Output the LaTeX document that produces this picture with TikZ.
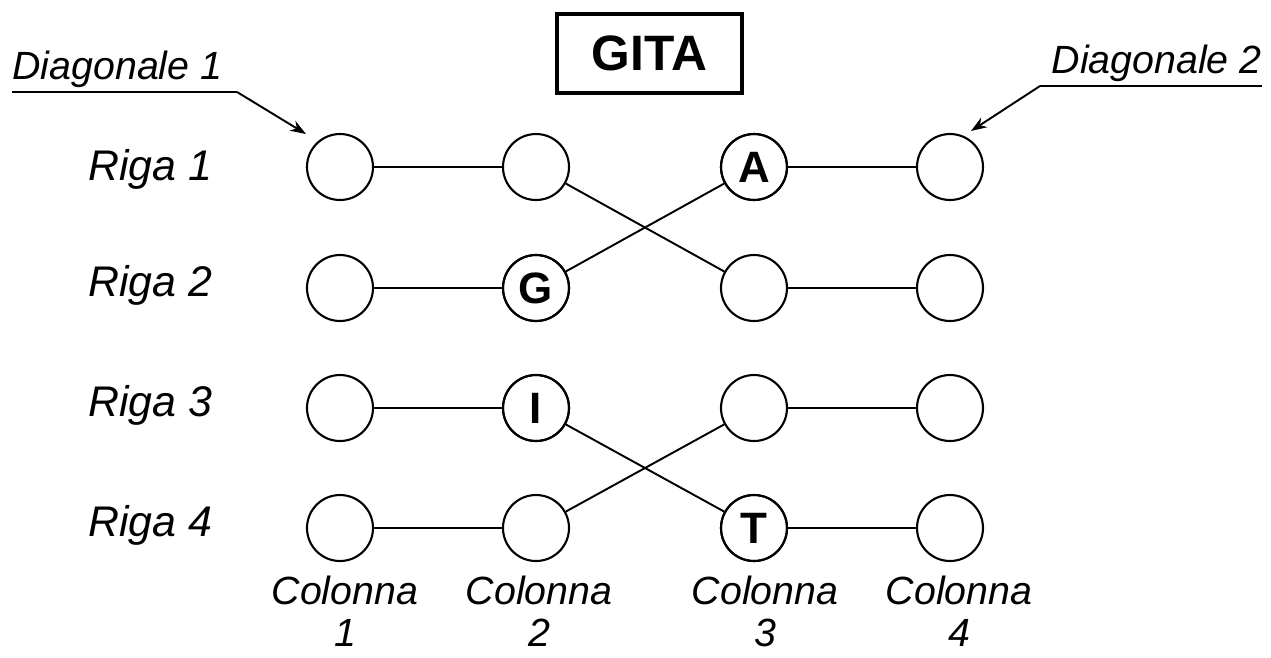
\documentclass[tikz,border=0pt]{standalone}
\usepackage{fontspec}
\setmainfont{Liberation Sans}
\usetikzlibrary{arrows.meta}
\begin{document}
\begin{tikzpicture}[x=0.02cm,y=-0.02cm,
  dot/.style={draw,circle,line width=1.2pt,minimum size=1.32cm,inner sep=0pt,
    font=\fontsize{25}{25}\selectfont\bfseries},
  link/.style={line width=1.1pt},
  rowlab/.style={anchor=base west,inner sep=0pt,font=\fontsize{24.4}{24.4}\selectfont\itshape},
  collab/.style={anchor=base,inner sep=0pt,font=\fontsize{22.4}{22.4}\selectfont\itshape},
  diaglab/.style={inner sep=0pt,font=\fontsize{22.4}{22.4}\selectfont\itshape},
  pointer/.style={line width=1.1pt,-{Stealth[length=9pt,width=6.5pt]}}]
\useasboundingbox (0,0) rectangle (1271,657);
% title
\node[draw,line width=2.3pt,minimum width=3.7cm,minimum height=1.58cm,inner sep=0pt,
  font=\fontsize{28.3}{28.3}\selectfont\bfseries] (title) at (649.5,53.5) {GITA};
% circles
\foreach \r/\y in {1/167,2/288,3/408,4/528}{
  \foreach \c/\x in {1/340,2/536,3/754,4/950}{
    \node[dot] (c\r\c) at (\x,\y) {};
  }
}
\node[dot] at (c13) {A};
\node[dot] at (c22) {G};
\node[dot] at (c32) {I};
\node[dot] at (c43) {T};
% connectors
\draw[link] (c11) -- (c12);
\draw[link] (c12) -- (c23);
\draw[link] (c22) -- (c13);
\draw[link] (c13) -- (c14);
\draw[link] (c21) -- (c22);
\draw[link] (c23) -- (c24);
\draw[link] (c31) -- (c32);
\draw[link] (c32) -- (c43);
\draw[link] (c42) -- (c33);
\draw[link] (c33) -- (c34);
\draw[link] (c41) -- (c42);
\draw[link] (c43) -- (c44);
% row labels
\node[rowlab] (r1) at (88,180) {Riga 1};
\node[rowlab] (r2) at (88,296) {Riga 2};
\node[rowlab] (r3) at (88,416) {Riga 3};
\node[rowlab] (r4) at (88,536) {Riga 4};
% column labels
\node[collab] (k1) at (345,604) {Colonna};
\node[collab] (n1) at (345,646) {1};
\node[collab] (k2) at (539,604) {Colonna};
\node[collab] (n2) at (539,646) {2};
\node[collab] (k3) at (765,604) {Colonna};
\node[collab] (n3) at (765,646) {3};
\node[collab] (k4) at (959,604) {Colonna};
\node[collab] (n4) at (959,646) {4};
% diagonals
\node[diaglab,anchor=base west] (d1) at (12,79) {Diagonale 1};
\coordinate (d1a) at (12,92);
\coordinate (d1b) at (237,92);
\coordinate (d1t) at (306,134);
\draw[line width=1.1pt] (d1a) -- (d1b);
\draw[pointer] (d1b) -- (d1t);
\node[diaglab,anchor=base east] (d2) at (1262,73) {Diagonale 2};
\coordinate (d2a) at (1262,86);
\coordinate (d2b) at (1040,86);
\coordinate (d2t) at (971,131);
\draw[line width=1.1pt] (d2a) -- (d2b);
\draw[pointer] (d2b) -- (d2t);
\end{tikzpicture}
\end{document}
